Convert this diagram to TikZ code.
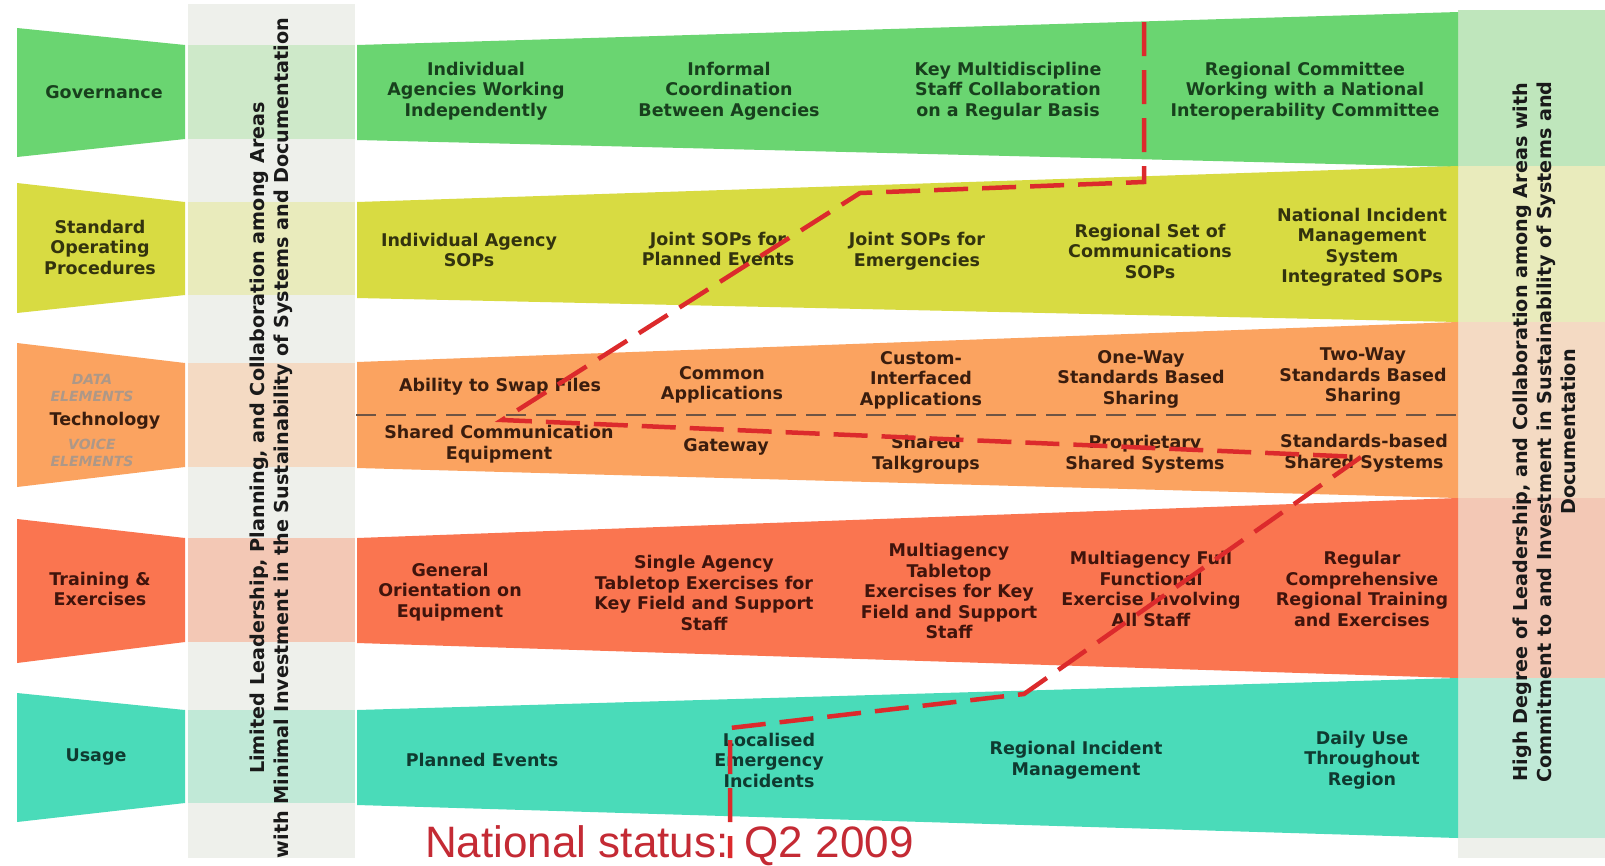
\documentclass[tikz,border=0pt]{standalone}
\usepackage{fontspec}
\setmainfont{DejaVu Sans}
\newfontfamily\arialf{Liberation Sans}
\definecolor{govc}{HTML}{6AD571}
\definecolor{sopc}{HTML}{D8DB42}
\definecolor{tecc}{HTML}{FBA360}
\definecolor{trac}{HTML}{FA7550}
\definecolor{usac}{HTML}{4ADBB9}
\definecolor{govl}{HTML}{CEE9C9}
\definecolor{sopl}{HTML}{E9EBBC}
\definecolor{tecl}{HTML}{F4DAC3}
\definecolor{tral}{HTML}{F3C8B5}
\definecolor{usal}{HTML}{C1E9D7}
\definecolor{colbg}{HTML}{EEF0EB}
\definecolor{redl}{HTML}{DC2A2C}
\definecolor{redt}{HTML}{C42A34}
\definecolor{sepc}{HTML}{6E5444}
\definecolor{elc}{HTML}{AD9888}
\definecolor{govt}{HTML}{18401D}
\definecolor{sopt}{HTML}{33330E}
\definecolor{tect}{HTML}{3A1D0E}
\definecolor{trat}{HTML}{40140C}
\definecolor{usat}{HTML}{0F3A30}
\definecolor{vtxt}{HTML}{1A1A1A}
\begin{document}
\begin{tikzpicture}[x=1pt,y=-1pt,
  bt/.style={font=\bfseries\fontsize{17.5}{20.5}\selectfont, align=center, inner sep=0pt},
  gt/.style={bt, text=govt},
  st/.style={bt, text=sopt},
  tt/.style={bt, text=tect},
  rt/.style={bt, text=trat},
  ut/.style={bt, text=usat},
  vt/.style={font=\bfseries\fontsize{19.2}{24}\selectfont, text=vtxt, align=center, inner sep=0pt, rotate=90},
  el/.style={font=\bfseries\itshape\fontsize{14}{16}\selectfont, text=elc, align=center, inner sep=0pt},
  status/.style={draw=redl, line width=4.5pt, dash pattern=on 34pt off 14pt},
  sepline/.style={draw=sepc, line width=1.3pt, dash pattern=on 20pt off 10pt}
]
\useasboundingbox (0,0) rectangle (1605,865);
\fill[white] (0,0) rectangle (1605,865);

% left column
\fill[colbg] (188,4) rectangle (355,858);
\fill[govl] (188,45) rectangle (355,139);
\fill[sopl] (188,202) rectangle (355,295);
\fill[tecl] (188,363) rectangle (355,467);
\fill[tral] (188,538) rectangle (355,642);
\fill[usal] (188,710) rectangle (355,803);

% right column
\fill[colbg] (1458,10) rectangle (1605,858);
\fill[govl!85!govc] (1458,10) rectangle (1605,166);
\fill[sopl] (1458,166) rectangle (1605,322);
\fill[tecl] (1458,322) rectangle (1605,498);
\fill[tral] (1458,498) rectangle (1605,678);
\fill[usal] (1458,678) rectangle (1605,838);

% left trapezoids
\fill[govc] (17,28) -- (185,45) -- (185,139) -- (17,157) -- cycle;
\fill[sopc] (17,183) -- (185,202) -- (185,295) -- (17,313) -- cycle;
\fill[tecc] (17,343) -- (185,363) -- (185,467) -- (17,487) -- cycle;
\fill[trac] (17,519) -- (185,538) -- (185,642) -- (17,663) -- cycle;
\fill[usac] (17,693) -- (185,710) -- (185,803) -- (17,822) -- cycle;

% main bands
\fill[govc] (357,45) -- (1458,12) -- (1458,167) -- (357,140) -- cycle;
\fill[sopc] (357,202) -- (1458,166) -- (1458,322) -- (357,298) -- cycle;
\fill[tecc] (357,362) -- (1458,322) -- (1458,498) -- (357,468) -- cycle;
\fill[trac] (357,538) -- (1458,498) -- (1458,678) -- (357,643) -- cycle;
\fill[usac] (357,710) -- (1458,678) -- (1458,838) -- (357,805) -- cycle;

% separator in technology band
\coordinate (sepA) at (356,415);
\coordinate (sepB) at (1458,415);
\draw[sepline] (sepA) -- (sepB);

% left labels
\node[gt] (lgov) at (104,92) {Governance};
\node[st] (lsop) at (100,247) {Standard\\Operating\\Procedures};
\node[el] (ld1) at (92,379) {DATA};
\node[el] (ld2) at (92,396) {ELEMENTS};
\node[tt] (ltec) at (105,421) {Technology};
\node[el] (lv1) at (92,444) {VOICE};
\node[el] (lv2) at (92,461) {ELEMENTS};
\node[rt] (ltra) at (100,589) {Training \&\\Exercises};
\node[ut] (lusa) at (96,757) {Usage};

% vertical texts
\node[vt] (vleft) at (271,438) {Limited Leadership, Planning, and Collaboration among Areas\\with Minimal Investment in the Sustainability of Systems and Documentation};
\node[vt] (vright) at (1544,432) {High Degree of Leadership, and Collaboration among Areas with\\Commitment to and Investment in Sustainability of Systems and\\Documentation};

% governance row
\node[gt] (g1) at (476,91) {Individual\\Agencies Working\\Independently};
\node[gt] (g2) at (729,91) {Informal\\Coordination\\Between Agencies};
\node[gt] (g3) at (1008,91) {Key Multidiscipline\\Staff Collaboration\\on a Regular Basis};
\node[gt] (g4) at (1305,91) {Regional Committee\\Working with a National\\Interoperability Committee};

% SOP row
\node[st] (s1) at (469,250) {Individual Agency\\SOPs};
\node[st] (s2) at (718,249) {Joint SOPs for\\Planned Events};
\node[st] (s3) at (917,251) {Joint SOPs for\\Emergencies};
\node[st] (s4) at (1150,251) {Regional Set of\\Communications\\SOPs};
\node[st] (s5) at (1362,247) {National Incident\\Management\\System\\Integrated SOPs};

% technology rows
\node[tt] (d1) at (500,387) {Ability to Swap Files};
\node[tt] (d2) at (722,385) {Common\\Applications};
\node[tt] (d3) at (921,380) {Custom-\\Interfaced\\Applications};
\node[tt] (d4) at (1141,379) {One-Way\\Standards Based\\Sharing};
\node[tt] (d5) at (1363,377) {Two-Way\\Standards Based\\Sharing};
\node[tt] (v1) at (499,444) {Shared Communication\\Equipment};
\node[tt] (v2) at (726,447) {Gateway};
\node[tt] (v3) at (926,454) {Shared\\Talkgroups};
\node[tt] (v4) at (1145,454) {Proprietary\\Shared Systems};
\node[tt] (v5) at (1364,453) {Standards-based\\Shared Systems};

% training row
\node[rt] (t1) at (450,592) {General\\Orientation on\\Equipment};
\node[rt] (t2) at (704,593) {Single Agency\\Tabletop Exercises for\\Key Field and Support\\Staff};
\node[rt] (t3) at (949,591) {Multiagency\\Tabletop\\Exercises for Key\\Field and Support\\Staff};
\node[rt] (t4) at (1151,589) {Multiagency Full\\Functional\\Exercise Involving\\All Staff};
\node[rt] (t5) at (1362,589) {Regular\\Comprehensive\\Regional Training\\and Exercises};

% usage row
\node[ut] (u1) at (482,760) {Planned Events};
\node[ut] (u2) at (769,760) {Localised\\Emergency\\Incidents};
\node[ut] (u3) at (1076,760) {Regional Incident\\Management};
\node[ut] (u4) at (1362,760) {Daily Use\\Throughout\\Region};

% status text
\node[anchor=base west, inner sep=0pt, font=\arialf\fontsize{44}{50}\selectfont, text=redt] (nst) at (425,857) {National status: Q2 2009};

% status line
\coordinate (r1) at (1144,22);
\coordinate (r2) at (1144,182);
\coordinate (r3) at (860,193);
\coordinate (r4) at (502,420);
\coordinate (r5) at (1361,457);
\coordinate (r6) at (1024,694);
\coordinate (r7) at (730,728);
\coordinate (r8) at (730,858);
\draw[status] (r1) -- (r2) -- (r3) -- (r4) -- (r5) -- (r6) -- (r7) -- (r8);
\end{tikzpicture}
\end{document}
